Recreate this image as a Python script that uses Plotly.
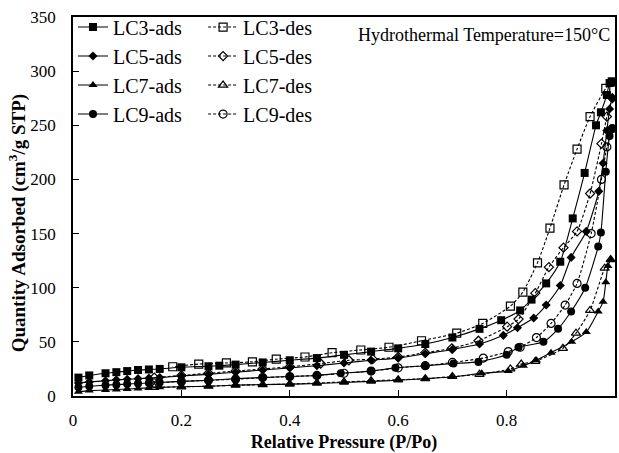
import plotly.graph_objects as go

# Nitrogen adsorption / desorption isotherms (P/Po vs. cm3/g STP)
lc3_ads_x = [0.01, 0.03, 0.06, 0.08, 0.10, 0.12, 0.14, 0.16, 0.20, 0.25, 0.27, 0.30, 0.35,
             0.40, 0.45, 0.50, 0.55, 0.60, 0.65, 0.70, 0.75, 0.79, 0.825, 0.846, 0.873,
             0.899, 0.922, 0.944, 0.965, 0.974, 0.985, 0.99, 0.995]
lc3_ads_y = [17, 19, 21, 22, 23, 24, 24.5, 25, 26.5, 27.5, 28, 29, 31, 33, 35, 38, 41, 44,
             48, 54, 62, 70, 79, 89, 104, 124, 164, 206, 250, 262, 278, 289, 290]
lc3_des_x = [0.995, 0.983, 0.954, 0.930, 0.906, 0.880, 0.857, 0.830, 0.807, 0.756, 0.708,
             0.643, 0.583, 0.531, 0.478, 0.428, 0.375, 0.331, 0.283, 0.232, 0.184]
lc3_des_y = [290, 284, 258, 228, 195, 155, 123, 96, 83, 67, 58, 51, 45, 42.5, 40, 36, 34,
             31.5, 30.5, 29.5, 27]

lc5_ads_x = [0.01, 0.03, 0.06, 0.08, 0.10, 0.12, 0.14, 0.16, 0.20, 0.25, 0.30, 0.35, 0.40,
             0.45, 0.50, 0.55, 0.60, 0.65, 0.70, 0.75, 0.794, 0.82, 0.85, 0.873, 0.899,
             0.919, 0.947, 0.97, 0.978, 0.985, 0.99, 0.995]
lc5_ads_y = [12, 13, 14, 15, 15.5, 16, 16.5, 17, 18.5, 20, 22, 24, 26, 28, 30.5, 33, 35,
             39, 43, 48, 56, 63, 72, 84, 102, 128, 152, 189, 215, 245, 265, 275]
lc5_des_x = [0.995, 0.985, 0.975, 0.954, 0.930, 0.905, 0.878, 0.853, 0.822, 0.801, 0.748,
             0.699, 0.650, 0.600, 0.553, 0.509, 0.457, 0.400, 0.350, 0.300, 0.250, 0.200,
             0.150]
lc5_des_y = [275, 258, 233, 187, 152, 137, 119, 95, 71, 64, 51, 44, 40, 36, 34, 33, 30,
             27, 25, 23, 21, 19, 17]

lc7_ads_x = [0.01, 0.03, 0.06, 0.08, 0.10, 0.12, 0.14, 0.16, 0.20, 0.25, 0.30, 0.35, 0.40,
             0.45, 0.50, 0.55, 0.60, 0.65, 0.699, 0.754, 0.803, 0.831, 0.855, 0.882, 0.92,
             0.947, 0.969, 0.978, 0.983, 0.987, 0.992]
lc7_ads_y = [4, 5, 5.5, 6, 6.5, 7, 7.5, 8, 8.5, 9, 10, 10.5, 11, 11.5, 12.5, 13.5, 14.5,
             16, 17.5, 21, 23, 28, 33, 40, 50, 59, 78, 87, 105, 120, 126]
lc7_des_x = [0.992, 0.981, 0.954, 0.928, 0.904, 0.853, 0.827, 0.807, 0.750, 0.700, 0.650,
             0.600, 0.550, 0.500, 0.450, 0.400, 0.350, 0.300, 0.250, 0.200, 0.150]
lc7_des_y = [126, 118, 79, 58, 44, 32, 29.5, 25, 20, 18, 16, 15, 14, 13, 12, 11, 10.5, 10,
             9, 8.5, 8]

lc9_ads_x = [0.01, 0.03, 0.06, 0.08, 0.10, 0.12, 0.14, 0.16, 0.20, 0.25, 0.30, 0.35, 0.40,
             0.45, 0.494, 0.55, 0.595, 0.65, 0.702, 0.748, 0.80, 0.822, 0.868, 0.895,
             0.919, 0.945, 0.969, 0.974, 0.983, 0.99, 0.995]
lc9_ads_y = [8, 9, 10, 10.5, 11, 11.5, 12, 12.5, 13.5, 14.5, 16, 17, 18, 19, 21, 23, 26,
             28, 30, 31.5, 38, 45, 50, 62, 78, 100, 138, 151, 207, 240, 247]
lc9_des_x = [0.995, 0.985, 0.975, 0.956, 0.930, 0.908, 0.882, 0.855, 0.825, 0.803, 0.757,
             0.700, 0.650, 0.600, 0.550, 0.500, 0.450, 0.400, 0.350, 0.300, 0.250, 0.200,
             0.150]
lc9_des_y = [247, 230, 200, 150, 104, 84, 67, 54, 45, 41, 35, 31, 28, 26, 23, 21, 19, 18,
             17, 15.5, 14.5, 13.5, 12]

x_ticks = [0, 0.2, 0.4, 0.6, 0.8, 1]
x_tick_text = ["0", "0.2", "0.4", "0.6", "0.8", "1"]
y_ticks = [0, 50, 100, 150, 200, 250, 300, 350]

series = [
    ("LC3", lc3_ads_x, lc3_ads_y, lc3_des_x, lc3_des_y, "square", 8),
    ("LC5", lc5_ads_x, lc5_ads_y, lc5_des_x, lc5_des_y, "diamond", 7),
    ("LC7", lc7_ads_x, lc7_ads_y, lc7_des_x, lc7_des_y, "triangle-up", 8),
    ("LC9", lc9_ads_x, lc9_ads_y, lc9_des_x, lc9_des_y, "circle", 8),
]

FONT = "Liberation Serif, Times New Roman, serif"
fig = go.Figure()

for name, ax, ay, dx, dy, sym, size in series:
    fig.add_trace(go.Scatter(
        x=ax, y=ay, name=f"{name}-ads", mode="lines+markers", legend="legend",
        line=dict(color="black", width=1.1, shape="spline", smoothing=0.6),
        marker=dict(symbol=sym, size=size, color="black"),
    ))
for name, ax, ay, dx, dy, sym, size in series:
    fig.add_trace(go.Scatter(
        x=dx, y=dy, name=f"{name}-des", mode="lines+markers", legend="legend2",
        line=dict(color="black", width=1.1, dash="3px,2px", shape="spline", smoothing=0.6),
        marker=dict(symbol=sym + "-open", size=size, color="black",
                    line=dict(color="black", width=1.2)),
    ))

axis_common = dict(
    showline=True, linecolor="black", linewidth=1.5, mirror=True,
    ticks="inside", ticklen=6, tickwidth=1.2, tickcolor="black",
    showgrid=False, zeroline=False,
    tickfont=dict(family=FONT, size=17, color="black"),
)

fig.update_layout(
    width=619, height=453,
    margin=dict(l=73, r=2, t=17, b=57),
    paper_bgcolor="white", plot_bgcolor="white",
    font=dict(family=FONT, color="black"),
    xaxis=dict(range=[0, 1], tickvals=x_ticks, ticktext=x_tick_text,
               ticklabelstandoff=8,
               title=dict(text="<b>Relative Pressure (P/Po)</b>",
                          font=dict(family=FONT, size=18), standoff=8),
               **axis_common),
    yaxis=dict(range=[0, 350], tickvals=y_ticks, ticklabelstandoff=12,
               **axis_common),
    legend=dict(x=0.0, y=1.025, xanchor="left", yanchor="top",
                bgcolor="rgba(0,0,0,0)", borderwidth=0,
                font=dict(family=FONT, size=20, color="black"),
                tracegroupgap=0, itemwidth=30),
    legend2=dict(x=0.24, y=1.025, xanchor="left", yanchor="top",
                 bgcolor="rgba(0,0,0,0)", borderwidth=0,
                 font=dict(family=FONT, size=20, color="black"),
                 tracegroupgap=0, itemwidth=30),
    annotations=[
        dict(text="Hydrothermal Temperature=150°C", x=0.995, y=0.985,
             xref="paper", yref="paper", xanchor="right", yanchor="top",
             showarrow=False, font=dict(family=FONT, size=18, color="black")),
        dict(text="<b>Quantity Adsorbed (cm<sup>3</sup>/g STP)</b>",
             x=-0.103, y=0.456, xref="paper", yref="paper",
             xanchor="center", yanchor="middle", textangle=-90,
             showarrow=False, font=dict(family=FONT, size=19, color="black")),
    ],
)

fig.write_html("out.html")
